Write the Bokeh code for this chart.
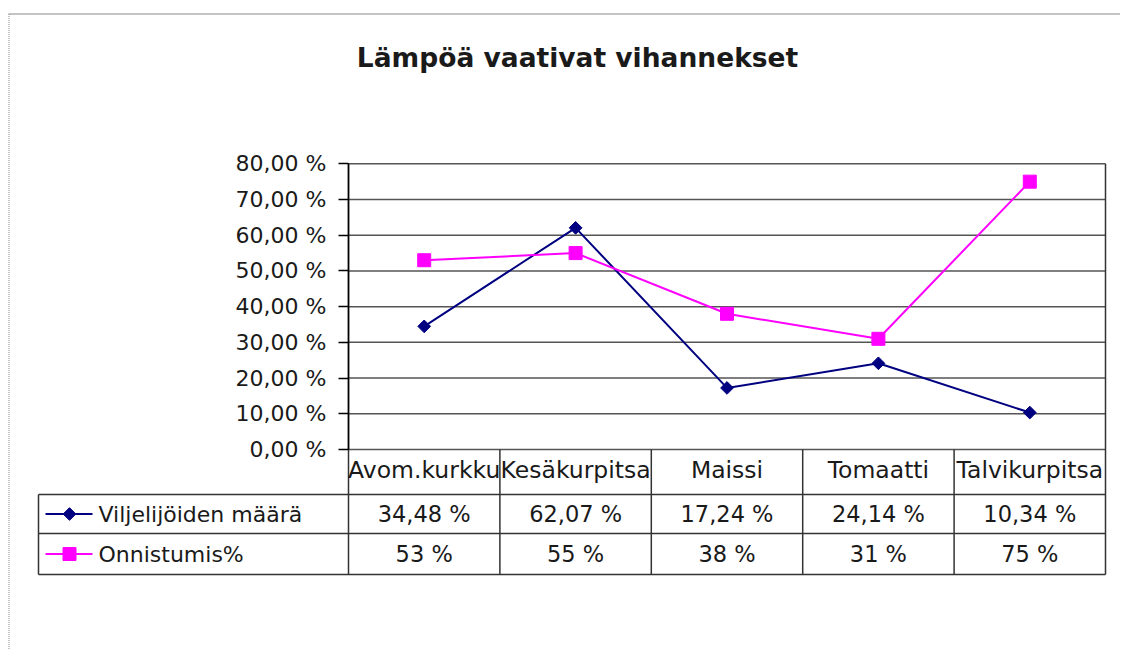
from bokeh.plotting import figure
from bokeh.models import LinearAxis, FixedTicker, Range1d
from bokeh.core.properties import value
from bokeh.embed import file_html
from bokeh.resources import INLINE

# ---------------- data ----------------
title_text = "Lämpöä vaativat vihannekset"
categories = ["Avom.kurkku", "Kesäkurpitsa", "Maissi", "Tomaatti", "Talvikurpitsa"]
series_names = ["Viljelijöiden määrä", "Onnistumis%"]
viljelijoiden_maara = [34.48, 62.07, 17.24, 24.14, 10.34]
onnistumis = [53, 55, 38, 31, 75]
y_ticks = [0, 10, 20, 30, 40, 50, 60, 70, 80]
y_tick_labels = ["0,00 %", "10,00 %", "20,00 %", "30,00 %", "40,00 %",
                 "50,00 %", "60,00 %", "70,00 %", "80,00 %"]
viljelijoiden_labels = ["34,48 %", "62,07 %", "17,24 %", "24,14 %", "10,34 %"]
onnistumis_labels = ["53 %", "55 %", "38 %", "31 %", "75 %"]

# ---------------- layout (page pixels) ----------------
W, H, OFF = 1120, 649, 0
PLOT_L, PLOT_R = 348, 1105
Y_BASE, Y_TOP = 449, 163.3
Y_MAX = y_ticks[-1]
TABLE_L = 38
ROW1_TOP, ROW2_TOP, TABLE_B = 494, 533, 574
FONT = "DejaVu Sans"
TXT = "#1a1a1a"
NAVY = "#000080"
MAGENTA = "#ff00ff"
LINE = "#333333"
GRID = "#555555"

n = len(categories)
sx = (PLOT_R - PLOT_L) / n
sy = (Y_BASE - Y_TOP) / Y_MAX


def dx(px):
    return (px - PLOT_L) / sx


def dy(py):
    return (Y_BASE - py) / sy


p = figure(width=W, height=H,
           x_range=Range1d(dx(OFF), dx(OFF + W)),
           y_range=Range1d(dy(OFF + H), dy(OFF)),
           x_axis_type=None, y_axis_type=None,
           output_backend="svg", toolbar_location=None, title=None,
           min_border=0)
p.min_border_left = p.min_border_right = p.min_border_top = p.min_border_bottom = 0
p.outline_line_color = None
p.background_fill_color = "white"
p.border_fill_color = "white"

# outer chart-area border (top solid, left dotted)
p.segment(x0=[dx(8)], y0=[dy(13.5)], x1=[dx(OFF + W)], y1=[dy(13.5)],
          line_color="#888888", line_width=1)
p.segment(x0=[dx(8.5)], y0=[dy(13.5)], x1=[dx(8.5)], y1=[dy(OFF + H)],
          line_color="#888888", line_width=1, line_dash="1 1")

# title
p.text(x=[dx(577)], y=[dy(57)], text=[title_text], text_font=value(FONT),
       text_font_size="26.5px", text_font_style="bold", text_color=TXT,
       text_align="center", text_baseline="middle")

# horizontal gridlines across the plot area, one per tick
p.segment(x0=[0] * len(y_ticks), y0=y_ticks, x1=[n] * len(y_ticks), y1=y_ticks,
          line_color=GRID, line_width=1.5)

# y axis fixed at left edge of plot area
yaxis = LinearAxis(ticker=FixedTicker(ticks=y_ticks), fixed_location=0,
                   bounds=(0, Y_MAX),
                   major_label_overrides={t: l for t, l in zip(y_ticks, y_tick_labels)},
                   minor_tick_line_color=None, major_tick_out=10, major_tick_in=0,
                   major_tick_line_color="black", major_tick_line_width=1.5,
                   axis_line_color="black", axis_line_width=1.5,
                   major_label_text_font=FONT, major_label_text_font_size="22px",
                   major_label_text_color=TXT, major_label_standoff=12)
p.add_layout(yaxis, "left")

# data table lines
row_ys = [dy(ROW1_TOP), dy(ROW2_TOP), dy(TABLE_B)]
p.segment(x0=[dx(TABLE_L)] * 3, y0=row_ys, x1=[n] * 3, y1=row_ys,
          line_color=LINE, line_width=1.5)
col_xs = list(range(n + 1))
col_tops = [Y_MAX if i in (0, n) else 0 for i in col_xs]
p.segment(x0=col_xs, y0=[dy(TABLE_B)] * (n + 1), x1=col_xs, y1=col_tops,
          line_color=LINE, line_width=1.5)
p.segment(x0=[dx(TABLE_L)], y0=[dy(TABLE_B)], x1=[dx(TABLE_L)], y1=[dy(ROW1_TOP)],
          line_color=LINE, line_width=1.5)

cat_x = [i + 0.5 for i in range(n)]

# category labels in header row
p.text(x=cat_x, y=[dy(469)] * n, text=categories, text_font=value(FONT),
       text_font_size="23.5px", text_color=TXT, text_align="center",
       text_baseline="middle")

# table values
r1c = (ROW1_TOP + ROW2_TOP) / 2
r2c = (ROW2_TOP + TABLE_B) / 2
p.text(x=cat_x, y=[dy(r1c)] * n, text=viljelijoiden_labels, text_font=value(FONT),
       text_font_size="22.5px", text_color=TXT, text_align="center",
       text_baseline="middle")
p.text(x=cat_x, y=[dy(r2c)] * n, text=onnistumis_labels, text_font=value(FONT),
       text_font_size="22.5px", text_color=TXT, text_align="center",
       text_baseline="middle")

# legend keys inside the table
p.line(x=[dx(45), dx(92)], y=[dy(r1c)] * 2, line_color=NAVY, line_width=2)
p.scatter(x=[dx(69)], y=[dy(r1c)], marker="square", angle=0.7853981634, size=9,
          fill_color=NAVY, line_color=NAVY)
p.line(x=[dx(45), dx(92)], y=[dy(r2c)] * 2, line_color=MAGENTA, line_width=2)
p.scatter(x=[dx(69)], y=[dy(r2c)], marker="square", size=13,
          fill_color=MAGENTA, line_color=MAGENTA)
p.text(x=[dx(98)] * 2, y=[dy(r1c), dy(r2c)], text=series_names, text_font=value(FONT),
       text_font_size="22px", text_color=TXT, text_align="left",
       text_baseline="middle")

# series
p.line(x=cat_x, y=viljelijoiden_maara, line_color=NAVY, line_width=2)
p.scatter(x=cat_x, y=viljelijoiden_maara, marker="square", angle=0.7853981634,
          size=9, fill_color=NAVY, line_color=NAVY)
p.line(x=cat_x, y=onnistumis, line_color=MAGENTA, line_width=2)
p.scatter(x=cat_x, y=onnistumis, marker="square", size=13,
          fill_color=MAGENTA, line_color=MAGENTA)

open("out.html", "w").write(file_html(p, INLINE))
